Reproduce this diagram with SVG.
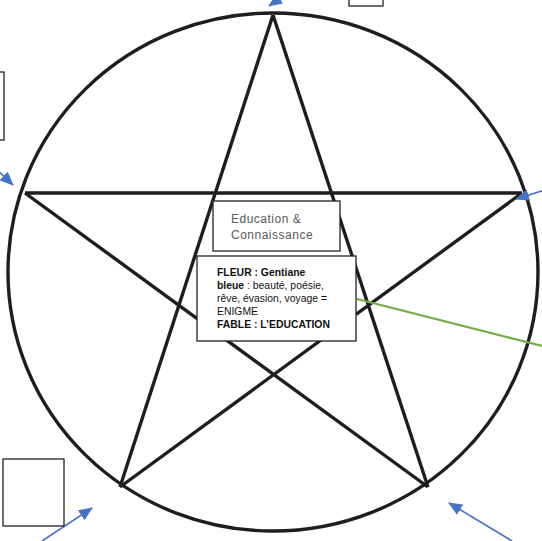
<svg xmlns="http://www.w3.org/2000/svg" width="542" height="541" viewBox="0 0 542 541">
<defs>
<marker id="ah" markerUnits="userSpaceOnUse" markerWidth="14" markerHeight="12" refX="13" refY="6" orient="auto">
<path d="M0,0 L14,6 L0,12 Z" fill="#4472C4"/>
</marker>
<style>
.shape{fill:none;stroke:#1e1e1e;stroke-width:3.4;stroke-linejoin:miter}
.box{fill:#fff;stroke:#222;stroke-width:1.3}
.blue{stroke:#4472C4;stroke-width:1.6;fill:none;marker-end:url(#ah)}
.t{font-family:"Liberation Sans",Arial,sans-serif;font-size:10.4px;fill:#111}
.b{font-weight:bold}
.g{font-family:"Liberation Sans",Arial,sans-serif;font-size:12px;letter-spacing:0.5px;fill:#5a5a5a}
</style>
</defs>
<rect width="542" height="541" fill="#fff"/>
<g id="circle-star">
<ellipse class="shape" cx="273" cy="272" rx="265" ry="259"/>
<path class="shape" d="M273,15 L120,487 M273,15 L428,487 M25,193 L522,193 M25,193 L428,487 M522,193 L120,487"/>
</g>
<g id="connectors">
<line x1="357" y1="299" x2="542" y2="346" stroke="#70AD47" stroke-width="2.2"/>
<line class="blue" x1="292" y1="-10" x2="269" y2="6"/>
<line class="blue" x1="-8" y1="165" x2="13" y2="185"/>
<line class="blue" x1="545" y1="190" x2="516" y2="199"/>
<line class="blue" x1="42" y1="541" x2="92" y2="508"/>
<line class="blue" x1="512" y1="541" x2="449" y2="503"/>
</g>
<g id="box-top-left"><rect class="box" x="-10" y="72" width="14" height="68"/></g>
<g id="box-top"><rect class="box" x="349" y="-10" width="34" height="16"/></g>
<g id="box-bottom-left"><rect class="box" x="3" y="459" width="61" height="67"/></g>
<g id="box-education">
<rect class="box" x="213" y="201" width="127" height="50" stroke="#444"/>
<text class="g" x="231" y="223">Education &amp;</text>
<text class="g" x="231" y="239">Connaissance</text>
</g>
<g id="box-fleur">
<rect class="box" x="197" y="256" width="159" height="85"/>
<text class="t" x="217" y="276"><tspan class="b">FLEUR : Gentiane</tspan></text>
<text class="t" x="217" y="289"><tspan class="b">bleue</tspan> : beauté, poésie,</text>
<text class="t" x="217" y="302">rêve, évasion, voyage =</text>
<text class="t" x="217" y="315">ENIGME</text>
<text class="t" x="217" y="328"><tspan class="b">FABLE : L’EDUCATION</tspan></text>
</g>
</svg>
